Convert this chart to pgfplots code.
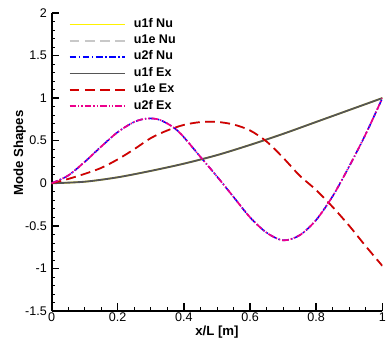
\documentclass[border=0pt]{standalone}
\usepackage{pgfplots}
\pgfplotsset{compat=1.18}
\usepackage{fontspec}
\setmainfont{Liberation Sans}
\pgfplotsset{longlegend/.style={legend image code/.code={\draw[##1] (0pt,0pt) -- (42pt,0pt);}}}
\pgfplotstableread{
x y
0 0
0.1 0.018
0.2 0.07
0.3 0.145
0.4 0.23
0.5 0.33
0.6 0.45
0.7 0.58
0.8 0.72
0.9 0.86
1.0 1.0
}\uf
\pgfplotstableread{
x y
0 0
0.05 0.05
0.1 0.11
0.15 0.18
0.2 0.28
0.25 0.40
0.3 0.53
0.35 0.62
0.4 0.685
0.45 0.718
0.5 0.72
0.55 0.69
0.6 0.62
0.65 0.49
0.7 0.30
0.75 0.09
0.8 -0.08
0.85 -0.28
0.9 -0.50
0.95 -0.74
1.0 -0.97
}\ue
\pgfplotstableread{
x y
0 0
0.05 0.09
0.1 0.25
0.15 0.43
0.2 0.6
0.25 0.72
0.29 0.76
0.33 0.74
0.383 0.61
0.45 0.31
0.5 0.08
0.55 -0.16
0.6 -0.40
0.65 -0.58
0.7 -0.67
0.75 -0.61
0.8 -0.43
0.85 -0.15
0.9 0.2
0.95 0.58
1.0 1.0
}\utwo
\definecolor{dgray}{RGB}{85,85,85}
\definecolor{lgray}{RGB}{200,200,200}
\definecolor{rred}{RGB}{210,0,0}
\begin{document}
\begin{tikzpicture}
\begin{axis}[
  name=ax,
  scale only axis,
  width=250.5pt, height=225.75pt,
  xmin=0, xmax=1, ymin=-1.5, ymax=2,
  axis x line=bottom, axis y line=left,
  axis line style={-, line width=1.5pt},
  tick align=inside,
  major tick length=6pt, minor tick length=3pt,
  every tick/.style={line width=1.2pt, black},
  minor tick style={line width=0.6pt, black},
  xtick={0,0.2,...,1}, ytick={-1.5,-1,...,2},
  minor x tick num=3, minor y tick num=4,
  ticklabel style={font=\fontsize{9.5}{11}\selectfont},
  /pgf/number format/assume math mode=true,
  xticklabel style={yshift=2pt},
  xlabel={\textbf{x/L [m]}}, ylabel={\textbf{Mode Shapes}},
  label style={font=\fontsize{10}{12}\selectfont},
  every axis x label/.style={at={(axis description cs:0.5,-0.07)}, anchor=center},
  every axis y label/.style={at={(axis description cs:-0.096,0.53)}, anchor=center, rotate=90},
  legend style={at={(axis description cs:0.051,0.99)}, anchor=north west, draw=none, fill=none,
    inner sep=0pt, column sep=6pt, row sep=0pt,
    nodes={inner sep=0pt, text height=8.4pt, text depth=4pt},
    font=\bfseries\fontsize{9.5}{11}\selectfont,
    legend cell align=left},
]
\addplot[yellow, line width=1.2pt, smooth, longlegend] table {\uf};
\addplot[lgray, line width=1.3pt, dash pattern=on 7.5pt off 4pt, smooth, longlegend] table {\ue};
\addplot[blue, line width=1.2pt, dash pattern=on 5pt off 2pt on 1pt off 2pt, smooth, longlegend] table {\utwo};
\addplot[dgray, line width=1.4pt, smooth, longlegend] table {\uf};
\addplot[rred, line width=1.3pt, dash pattern=on 7.5pt off 4pt, smooth, longlegend] table {\ue};
\addplot[magenta, line width=1.3pt, dash pattern=on 5pt off 1.5pt on 1pt off 1.5pt on 1pt off 1.5pt, smooth, longlegend] table {\utwo};
\legend{u1f Nu, u1e Nu, u2f Nu, u1f Ex, u1e Ex, u2f Ex}
\end{axis}
\pgfresetboundingbox
\path[use as bounding box] ([xshift=-39pt,yshift=-22.5pt]ax.south west) rectangle ([xshift=3.5pt,yshift=9.75pt]ax.north east);
\end{tikzpicture}
\end{document}
